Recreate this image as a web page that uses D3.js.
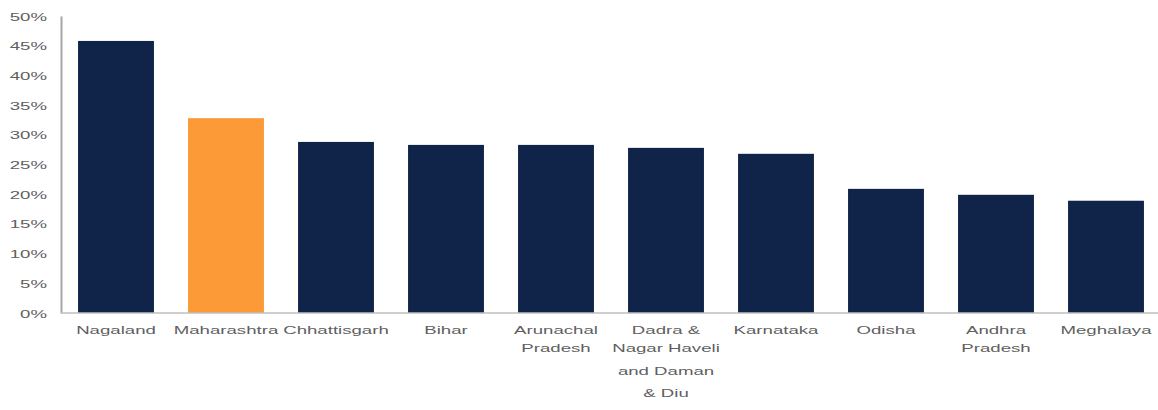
<!DOCTYPE html>
<html>
<head>
<meta charset="utf-8">
<script src="https://cdn.jsdelivr.net/npm/d3@7"></script>
<style>
  html, body { margin: 0; padding: 0; background: #fff; }
  svg { display: block; }
  text { font-family: "Liberation Sans", Arial, sans-serif; fill: #5f5f5f; }
</style>
</head>
<body>
<svg id="chart" width="1158" height="410"></svg>
<script>
// States and their share (%)
const states = ["Nagaland", "Maharashtra", "Chhattisgarh", "Bihar", "Arunachal Pradesh",
  "Dadra & Nagar Haveli and Daman & Diu", "Karnataka", "Odisha", "Andhra Pradesh", "Meghalaya"];
const shares = [45.8, 32.8, 28.8, 28.3, 28.3, 27.8, 26.8, 20.9, 19.9, 18.9];
const highlighted = ["Maharashtra"];
const yTicks = [0, 5, 10, 15, 20, 25, 30, 35, 40, 45, 50];

const W = 1158, H = 410;
const margin = { left: 61, right: -3, top: 16, bottom: 97 };
const stretch = 1.62;   // wide lettering
const fontSize = 11.5;

const svg = d3.select("#chart");

const x = d3.scaleBand()
  .domain(states)
  .range([margin.left, W - margin.right])
  .paddingInner(0.31)
  .paddingOuter(0.155);

const y = d3.scaleLinear()
  .domain([0, 50])
  .range([H - margin.bottom, margin.top]);

// bars
svg.append("g")
  .selectAll("rect")
  .data(states)
  .join("rect")
  .attr("x", d => x(d))
  .attr("width", x.bandwidth())
  .attr("y", (d, i) => y(shares[i]))
  .attr("height", (d, i) => y(0) - y(shares[i]))
  .attr("fill", d => highlighted.includes(d) ? "#fb9a36" : "#10244a");

// y axis
const yAxis = d3.axisLeft(y).tickValues(yTicks).tickSize(0).tickPadding(14)
  .tickFormat(d => d + "%");
const gy = svg.append("g").attr("transform", `translate(${margin.left},0)`).call(yAxis);
gy.select(".domain").attr("stroke", "#a6a6a6").attr("stroke-width", 2);
gy.selectAll("text")
  .attr("font-size", fontSize)
  .attr("fill", "#5f5f5f")
  .attr("font-family", null)
  .each(function() {
    const t = d3.select(this);
    const tx = +t.attr("x");
    t.attr("x", 0).attr("dy", "0.35em")
      .attr("transform", `translate(${tx},0) scale(${stretch},1)`);
  });

// baseline
svg.append("line")
  .attr("x1", margin.left).attr("x2", W)
  .attr("y1", y(0)).attr("y2", y(0))
  .attr("stroke", "#bfbfbf").attr("stroke-width", 1.5);

// x labels, wrapped within each category slot
const maxW = x.step() / stretch - 1;
const lineH = 22.5;
const gx = svg.append("g");
states.forEach(s => {
  const cx = x(s) + x.bandwidth() / 2;
  const g = gx.append("g").attr("transform", `translate(${cx},${y(0) + 17}) scale(${stretch},1)`);
  const t = g.append("text").attr("text-anchor", "middle").attr("font-size", fontSize).attr("dy", "0.35em");
  const words = s.split(" ");
  let line = [], lineNo = 0;
  let ts = t.append("tspan").attr("x", 0).attr("y", 0);
  words.forEach(w => {
    line.push(w);
    ts.text(line.join(" "));
    if (ts.node().getComputedTextLength() > maxW && line.length > 1) {
      line.pop();
      ts.text(line.join(" "));
      line = [w];
      lineNo++;
      ts = t.append("tspan").attr("x", 0).attr("y", lineNo * lineH).text(w);
    }
  });
});
</script>
</body>
</html>
